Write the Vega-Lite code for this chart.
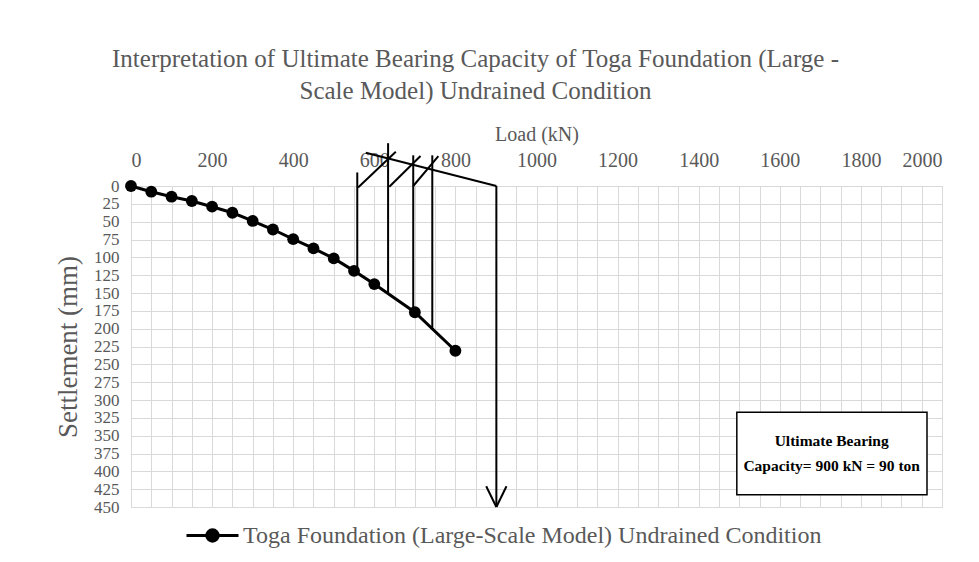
{
  "$schema": "https://vega.github.io/schema/vega-lite/v6.json",
  "width": 811,
  "height": 321,
  "autosize": {"type": "none"},
  "padding": {"left": 131, "top": 186, "right": 37, "bottom": 55},
  "background": "white",
  "title": {
    "text": ["Interpretation of Ultimate Bearing Capacity of Toga Foundation (Large -", "Scale Model) Undrained Condition"],
    "font": "Liberation Serif",
    "fontSize": 25,
    "fontWeight": "normal",
    "color": "#595959",
    "anchor": "middle",
    "dx": -61,
    "offset": 20,
    "lineHeight": 32
  },
  "config": {
    "view": {"stroke": "#d9d9d9"},
    "font": "Liberation Serif"
  },
  "datasets": {
    "curve": [
      {"x": 0, "y": 0, "series": "Toga Foundation (Large-Scale Model) Undrained Condition"},
      {"x": 50, "y": 8, "series": "Toga Foundation (Large-Scale Model) Undrained Condition"},
      {"x": 100, "y": 15, "series": "Toga Foundation (Large-Scale Model) Undrained Condition"},
      {"x": 150, "y": 21, "series": "Toga Foundation (Large-Scale Model) Undrained Condition"},
      {"x": 200, "y": 29, "series": "Toga Foundation (Large-Scale Model) Undrained Condition"},
      {"x": 250, "y": 37.5, "series": "Toga Foundation (Large-Scale Model) Undrained Condition"},
      {"x": 300, "y": 49, "series": "Toga Foundation (Large-Scale Model) Undrained Condition"},
      {"x": 350, "y": 61, "series": "Toga Foundation (Large-Scale Model) Undrained Condition"},
      {"x": 400, "y": 74.5, "series": "Toga Foundation (Large-Scale Model) Undrained Condition"},
      {"x": 450, "y": 87.5, "series": "Toga Foundation (Large-Scale Model) Undrained Condition"},
      {"x": 500, "y": 101.5, "series": "Toga Foundation (Large-Scale Model) Undrained Condition"},
      {"x": 550, "y": 119, "series": "Toga Foundation (Large-Scale Model) Undrained Condition"},
      {"x": 600, "y": 137.5, "series": "Toga Foundation (Large-Scale Model) Undrained Condition"},
      {"x": 700, "y": 177, "series": "Toga Foundation (Large-Scale Model) Undrained Condition"},
      {"x": 800, "y": 231, "series": "Toga Foundation (Large-Scale Model) Undrained Condition"}
    ],
    "segs": [
      {"x": 558, "y": -19, "xe": 558, "ye": 120},
      {"x": 634, "y": -60, "xe": 634, "ye": 151},
      {"x": 696, "y": -43, "xe": 696, "ye": 176},
      {"x": 743, "y": -43, "xe": 743, "ye": 200},
      {"x": 901, "y": 0, "xe": 901, "ye": 450},
      {"x": 579, "y": -46.5, "xe": 901, "ye": 0},
      {"x": 560, "y": 2, "xe": 653, "ye": -48},
      {"x": 637, "y": 1, "xe": 714, "ye": -42},
      {"x": 696, "y": 0, "xe": 758, "ye": -42},
      {"x": 876, "y": 421, "xe": 901, "ye": 450},
      {"x": 926, "y": 421, "xe": 901, "ye": 450}
    ],
    "box": [
      {"x": 1494, "y": 317, "xe": 1963, "ye": 433}
    ],
    "notes": [
      {"x": 1728, "y": 357, "text": "Ultimate Bearing"},
      {"x": 1728, "y": 393, "text": "Capacity= 900 kN = 90 ton"}
    ]
  },
  "encoding": {
    "x": {
      "field": "x",
      "type": "quantitative",
      "scale": {"domain": [0, 2000], "nice": false},
      "axis": {
        "orient": "top",
        "values": [0, 50, 100, 150, 200, 250, 300, 350, 400, 450, 500, 550, 600, 650, 700, 750, 800, 850, 900, 950, 1000, 1050, 1100, 1150, 1200, 1250, 1300, 1350, 1400, 1450, 1500, 1550, 1600, 1650, 1700, 1750, 1800, 1850, 1900, 1950, 2000],
        "labelExpr": "datum.value % 200 === 0 ? datum.label : ''",
        "format": "d",
        "grid": true,
        "gridColor": "#d9d9d9",
        "gridWidth": 1,
        "ticks": false,
        "domain": false,
        "labelFont": "Liberation Serif",
        "labelFontSize": 20,
        "labelColor": "#595959",
        "labelPadding": 16,
        "labelOverlap": false,
        "title": "Load (kN)",
        "titleFont": "Liberation Serif",
        "titleFontSize": 20,
        "titleFontWeight": "normal",
        "titleColor": "#595959",
        "titlePadding": 6
      }
    },
    "y": {
      "field": "y",
      "type": "quantitative",
      "scale": {"domain": [0, 450], "nice": false, "reverse": true},
      "axis": {
        "values": [0, 25, 50, 75, 100, 125, 150, 175, 200, 225, 250, 275, 300, 325, 350, 375, 400, 425, 450],
        "grid": true,
        "gridColor": "#d9d9d9",
        "gridWidth": 1,
        "ticks": false,
        "domain": true,
        "domainColor": "#d9d9d9",
        "labelFont": "Liberation Serif",
        "labelFontSize": 17,
        "labelColor": "#595959",
        "labelPadding": 12,
        "labelOverlap": false,
        "title": "Settlement (mm)",
        "titleFont": "Liberation Serif",
        "titleFontSize": 27,
        "titleFontWeight": "normal",
        "titleColor": "#595959",
        "titlePadding": 11
      }
    }
  },
  "layer": [
    {
      "data": {"name": "curve"},
      "mark": {"type": "line", "color": "black", "strokeWidth": 3, "point": {"filled": true, "size": 140, "color": "black"}},
      "encoding": {
        "color": {
          "field": "series",
          "type": "nominal",
          "scale": {"range": ["black"]},
          "legend": {
            "orient": "none",
            "legendX": 54,
            "legendY": 322,
            "title": null,
            "symbolType": "M-1,0L1,0M-0.22,0A0.22,0.22,0,1,1,0.22,0A0.22,0.22,0,1,1,-0.22,0Z",
            "symbolSize": 2704,
            "symbolStrokeWidth": 3,
            "labelFont": "Liberation Serif",
            "labelFontSize": 24,
            "labelColor": "#595959",
            "labelOffset": 3,
            "labelLimit": 900,
            "encode": {"symbols": {"update": {"fill": {"value": "black"}, "stroke": {"value": "black"}}}}
          }
        }
      }
    },
    {
      "data": {"name": "segs"},
      "mark": {"type": "rule", "color": "black", "strokeWidth": 2},
      "encoding": {
        "x2": {"field": "xe"},
        "y2": {"field": "ye"}
      }
    },
    {
      "data": {"name": "box"},
      "mark": {"type": "rect", "fill": "white", "stroke": "black", "strokeWidth": 1.5},
      "encoding": {
        "x2": {"field": "xe"},
        "y2": {"field": "ye"}
      }
    },
    {
      "data": {"name": "notes"},
      "mark": {"type": "text", "font": "Liberation Serif", "fontSize": 15.5, "fontWeight": "bold", "color": "black", "align": "center", "baseline": "middle"},
      "encoding": {
        "text": {"field": "text"}
      }
    }
  ]
}
